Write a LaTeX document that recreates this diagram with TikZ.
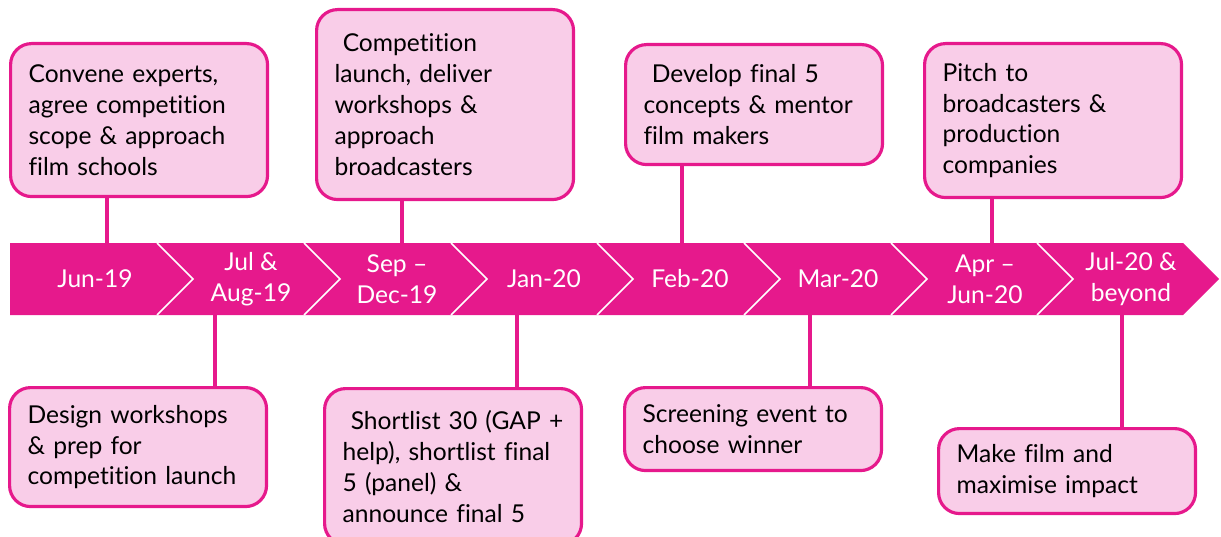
\documentclass[tikz,border=0pt]{standalone}
\usepackage{fontspec}
\setmainfont{Lato}[Ligatures=NoCommon]
\definecolor{magentaband}{RGB}{230,25,140}
\definecolor{pinkbox}{RGB}{249,205,232}
\tikzset{
    band/.style={fill=magentaband}, % the strip of chevrons
    notch/.style={draw=white, line width=0.9pt, line join=miter}, % white edges between months
    month/.style={text=white, align=center, inner sep=0pt, font=\fontsize{14}{17.6}\selectfont},
    task/.style={draw=magentaband, fill=pinkbox, line width=1.8pt, rounded corners=0.42cm,
        anchor=north west, align=left, text width=4.42cm, inner xsep=0.36cm, inner ysep=0pt,
        font=\fontsize{14}{17.6}\selectfont},
    link/.style={draw=magentaband, line width=1.8pt},
}

\begin{document}
\begin{tikzpicture}[x=0.02cm, y=-0.02cm]
    \useasboundingbox (0,0) rectangle (1221,537);

    % Band
    \fill[band] (10,243) -- (1183,243) -- (1219,279) -- (1183,315) -- (10,315) -- cycle;
    \foreach \s in {157,304,451,597,744,891,1037}
        \draw[notch] (\s,243) -- (\s+36,279) -- (\s,315);

    % Months
    \node[month] (m1) at (95,279)  {Jun-19};
    \node[month] (m2) at (251,279) {Jul \&\\Aug-19};
    \node[month] (m3) at (397,279) {Sep --\\Dec-19};
    \node[month] (m4) at (544,279) {Jan-20};
    \node[month] (m5) at (690,279) {Feb-20};
    \node[month] (m6) at (838,279) {Mar-20};
    \node[month] (m7) at (985,279) {Apr --\\Jun-20};
    \node[month] (m8) at (1131,279) {Jul-20 \&\\beyond};

    % Tasks above
    \node[task, minimum height=3.06cm] (t1) at (9,42)
        {Convene experts,\\agree competition\\scope \& approach\\film schools};
    \node[task, minimum height=3.8cm] (t2) at (315,8)
        {~Competition\\launch, deliver\\workshops \&\\approach\\broadcasters};
    \node[task, minimum height=2.4cm] (t3) at (624,43)
        {~Develop final 5\\concepts \& mentor\\film makers};
    \node[task, minimum height=3.08cm] (t4) at (923,42)
        {Pitch to\\broadcasters \&\\production\\companies};

    % Tasks below
    \node[task, minimum height=2.38cm] (u1) at (8,386)
        {Design workshops\\\& prep for\\competition launch};
    \node[task, minimum height=3.12cm] (u2) at (323,387)
        {~Shortlist 30 (GAP +\\help), shortlist final\\5 (panel) \&\\announce final 5};
    \node[task, minimum height=1.66cm] (u3) at (623,386)
        {Screening event to\\choose winner};
    \node[task, minimum height=1.7cm] (u4) at (937,427)
        {Make film and\\maximise impact};

    % Links to the band
    \coordinate (a1) at (107,243);
    \coordinate (a2) at (402,243);
    \coordinate (a3) at (682,243);
    \coordinate (a4) at (992,243);
    \coordinate (b1) at (215,315);
    \coordinate (b2) at (517,315);
    \coordinate (b3) at (810,315);
    \coordinate (b4) at (1122,315);
    \path[link]
        (a1 |- t1.south) -- (a1)
        (a2 |- t2.south) -- (a2)
        (a3 |- t3.south) -- (a3)
        (a4 |- t4.south) -- (a4)
        (b1) -- (b1 |- u1.north)
        (b2) -- (b2 |- u2.north)
        (b3) -- (b3 |- u3.north)
        (b4) -- (b4 |- u4.north);
\end{tikzpicture}
\end{document}
